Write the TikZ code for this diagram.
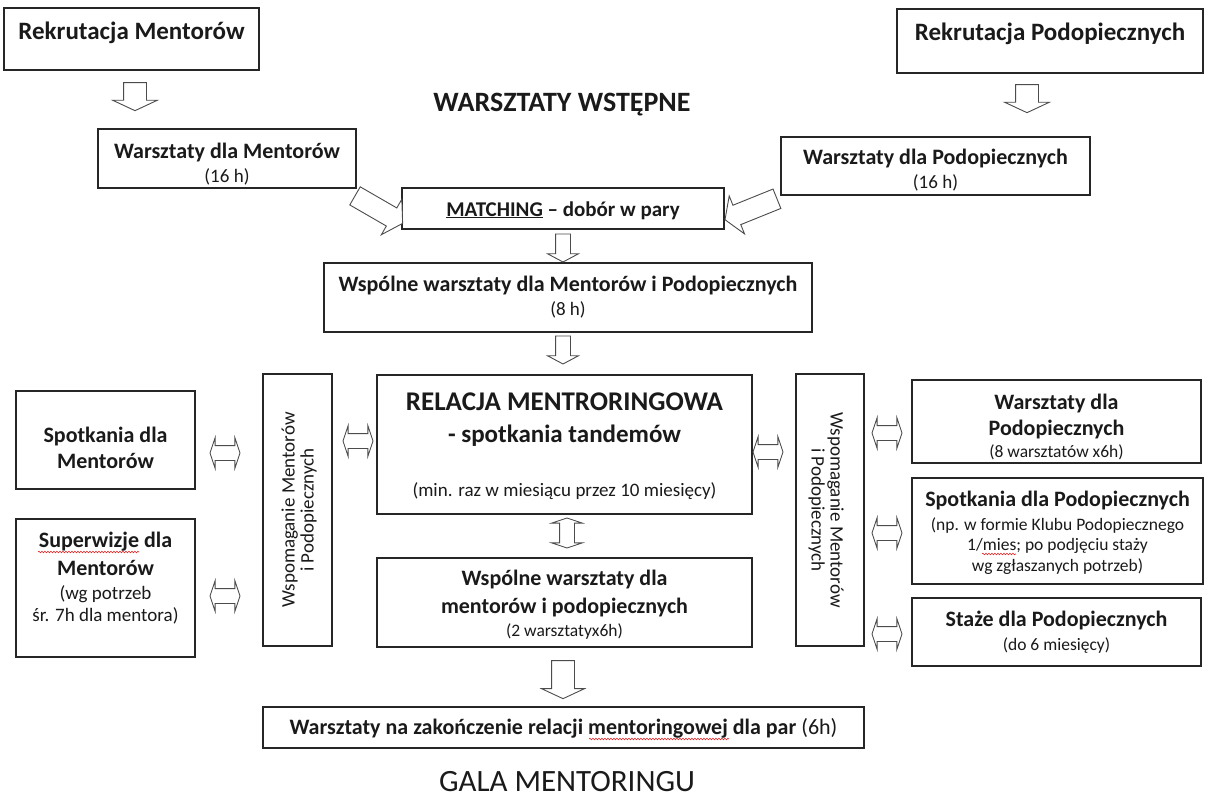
\documentclass[tikz,border=0pt]{standalone}
\usepackage{fontspec}
\setmainfont{Carlito}
\usetikzlibrary{shapes.arrows,decorations.pathmorphing}

\definecolor{ink}{HTML}{1A1A1A}
\definecolor{frame}{HTML}{262626}
\definecolor{arrowline}{HTML}{4C4C4C}
\definecolor{spell}{HTML}{E02828}

\newcommand\pxsize[1]{\fontsize{#1}{#1}\selectfont}

\tikzset{
  box/.style={draw=frame, line width=1.3pt, inner sep=0pt},
  lbl/.style={anchor=base, inner sep=0pt, text=ink},
  head/.style={lbl, font=\bfseries\pxsize{25}},
  bold/.style={lbl, font=\bfseries\pxsize{22}},
  note/.style={lbl, font=\pxsize{19}},
  small/.style={lbl, font=\pxsize{17.5}},
  side/.style={inner sep=0pt, text=ink, align=center, font=\pxsize{19}},
  blockarrow/.style n args={4}{single arrow, draw=arrowline, fill=white,
    line width=0.9pt, inner sep=0pt, minimum width=0pt, text height=#1,
    text depth=0pt, single arrow head extend=#2, single arrow tip angle=#3,
    minimum height=#4},
  twoway/.style={double arrow, draw=arrowline, fill=white, line width=0.9pt,
    inner sep=0pt, minimum width=0pt, text height=14pt, text depth=0pt,
    double arrow head extend=8pt, double arrow tip angle=143,
    minimum height=30pt},
  squiggle/.style={draw=spell, line width=0.6pt,
    decorate, decoration={snake, segment length=3pt, amplitude=0.8pt}}
}

\begin{document}
\begin{tikzpicture}[x=1pt, y=-1pt]
\useasboundingbox[fill=white] (0,0) rectangle (1205,798);

% ---- boxes ----
\node[box, minimum width=255, minimum height=62] (rm)  at (131.5,39)   {};
\node[box, minimum width=306, minimum height=64] (rp)  at (1050,41)    {};
\node[box, minimum width=258, minimum height=59] (wm)  at (227,158.5)  {};
\node[box, minimum width=309, minimum height=58] (wp)  at (935.5,166)  {};
\node[box, minimum width=322, minimum height=41] (mt)  at (563,208.5)  {};
\node[box, minimum width=488, minimum height=69] (ws)  at (568,297.5)  {};
\node[box, minimum width=375, minimum height=139] (rel) at (564.5,444.5) {};
\node[box, minimum width=375, minimum height=89] (ws2) at (564.5,602.5) {};
\node[box, minimum width=179, minimum height=98] (sm)  at (105.5,440)  {};
\node[box, minimum width=179, minimum height=138] (sv) at (105.5,588)  {};
\node[box, minimum width=69, minimum height=272] (vl)  at (297.5,510)  {};
\node[box, minimum width=68, minimum height=272] (vr)  at (830,510)    {};
\node[box, minimum width=289, minimum height=83] (rw)  at (1056.5,421.5) {};
\node[box, minimum width=291, minimum height=106] (rs) at (1057.5,531) {};
\node[box, minimum width=289, minimum height=68] (rst) at (1056.5,632) {};
\node[box, minimum width=601, minimum height=41] (fin) at (563.5,727.5) {};

% ---- texts ----
\node[head] (rm-t) at (131.5,39) {Rekrutacja Mentorów};
\node[head] (rp-t) at (1050,40) {Rekrutacja Podopiecznych};
\node[lbl, font=\bfseries\pxsize{28}] (ww-t) at (562,111) {WARSZTATY WSTĘPNE};

\node[bold] (wm-t1) at (227,158) {Warsztaty dla Mentorów};
\node[note] (wm-t2) at (227,182) {(16 h)};
\node[bold] (wp-t1) at (935.5,164) {Warsztaty dla Podopiecznych};
\node[note] (wp-t2) at (935.5,188) {(16 h)};

\node[lbl, font=\bfseries\pxsize{21}] (mt-t) at (563,216)
  {\underline{MATCHING} – dobór w pary};

\node[bold] (ws-t1) at (568,291) {Wspólne warsztaty dla Mentorów i Podopiecznych};
\node[note] (ws-t2) at (568,315) {(8 h)};

\node[lbl, font=\bfseries\pxsize{27}] (rel-t1) at (564.5,410) {RELACJA MENTRORINGOWA};
\node[lbl, font=\bfseries\pxsize{25}] (rel-t2) at (564.5,442) {- spotkania tandemów};
\node[note] (rel-t3) at (564.5,496) {(min. raz w miesiącu przez 10 miesięcy)};

\node[bold] (ws2-t1) at (564.5,585) {Wspólne warsztaty dla};
\node[bold] (ws2-t2) at (564.5,613) {mentorów i podopiecznych};
\node[small] (ws2-t3) at (564.5,636) {(2 warsztatyx6h)};

\node[bold] (sm-t1) at (105.5,442) {Spotkania dla};
\node[bold] (sm-t2) at (105.5,468) {Mentorów};

\node[bold] (sv-t1) at (105.5,547) {Superwizje dla};
\node[bold] (sv-t2) at (105.5,575) {Mentorów};
\node[note] (sv-t3) at (105.5,599) {(wg potrzeb};
\node[note] (sv-t4) at (105.5,621) {śr. 7h dla mentora)};

\node[side, rotate=90] (vl-t) at (299,510) {Wspomaganie Mentorów\\i Podopiecznych};
\node[side, rotate=-90] (vr-t) at (826,510) {Wspomaganie Mentorów\\i Podopiecznych};

\node[bold] (rw-t1) at (1056.5,409) {Warsztaty dla};
\node[bold] (rw-t2) at (1056.5,435) {Podopiecznych};
\node[small] (rw-t3) at (1056.5,457) {(8 warsztatów x6h)};

\node[bold] (rs-t1) at (1057.5,506) {Spotkania dla Podopiecznych};
\node[small] (rs-t2) at (1057.5,530) {(np. w formie Klubu Podopiecznego};
\node[small] (rs-t3) at (1057.5,550) {1/mies; po podjęciu staży};
\node[small] (rs-t4) at (1057.5,571) {wg zgłaszanych potrzeb)};

\node[bold] (rst-t1) at (1056.5,626) {Staże dla Podopiecznych};
\node[small] (rst-t2) at (1056.5,650) {(do 6 miesięcy)};

\node[bold] (fin-t) at (563.5,734)
  {Warsztaty na zakończenie relacji mentoringowej dla par \mdseries(6h)};

\node[lbl, font=\pxsize{31}] (gala) at (567,791) {GALA MENTORINGU};

% ---- spelling marks ----
\draw[squiggle] (38,552) -- (139,552);
\draw[squiggle] (982,554) -- (1016,554);
\draw[squiggle] (589,739) -- (729,739);

% ---- block arrows: flow downwards ----
\node[blockarrow={22pt}{11pt}{130}{28pt}, rotate=-90] (a-rm) at (135,94) {};
\node[blockarrow={22pt}{11pt}{130}{28pt}, rotate=-90] (a-rp) at (1027,96) {};
\node[blockarrow={20pt}{10pt}{116}{55pt}, rotate=-30] (a-wm) at (376,208) {};
\node[blockarrow={20pt}{10pt}{116}{56pt}, rotate=202] (a-wp) at (754,208) {};
\node[blockarrow={14pt}{8pt}{124}{28pt}, rotate=-90] (a-mt) at (563,246) {};
\node[blockarrow={14pt}{8pt}{124}{28pt}, rotate=-90] (a-ws) at (563,348) {};
\node[blockarrow={22pt}{10pt}{130}{38pt}, rotate=-90] (a-ws2) at (563,677) {};

% ---- two-way arrows ----
\node[twoway] (d-sm)  at (225,453) {};
\node[twoway] (d-sv)  at (225,596) {};
\node[twoway] (d-vl)  at (358,441) {};
\node[twoway] (d-rel) at (768,452) {};
\node[twoway] (d-rw)  at (887,433) {};
\node[twoway] (d-rs)  at (887,533) {};
\node[twoway] (d-rst) at (887,634) {};
\node[twoway, rotate=90] (d-ws2) at (567,533) {};
\end{tikzpicture}
\end{document}
